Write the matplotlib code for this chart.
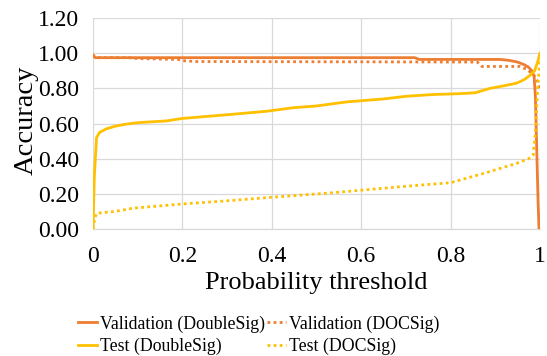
import matplotlib
matplotlib.use("Agg")
import matplotlib.pyplot as plt

# Validation (DoubleSig)
val_ds_x = [0, 0.005, 0.72, 0.73, 0.91, 0.93, 0.95, 0.965, 0.975, 0.982, 0.987, 0.990, 0.993, 0.996, 0.998]
val_ds_y = [0.99, 0.975, 0.975, 0.965, 0.965, 0.96, 0.95, 0.935, 0.92, 0.90, 0.87, 0.75, 0.45, 0.15, 0.0]

# Validation (DOCSig)
val_doc_x = [0, 0.005, 0.08, 0.1, 0.19, 0.2, 0.23, 0.86, 0.87, 0.955, 0.97, 0.985, 0.99, 0.995, 1.0]
val_doc_y = [0.99, 0.975, 0.975, 0.97, 0.965, 0.958, 0.953, 0.95, 0.925, 0.925, 0.91, 0.88, 0.86, 0.84, 0.80]

# Test (DoubleSig)
test_ds_x = [0, 0.003, 0.008, 0.015, 0.03, 0.05, 0.075, 0.1, 0.165, 0.2, 0.3, 0.389, 0.448, 0.5,
             0.567, 0.65, 0.7, 0.76, 0.82, 0.855, 0.888, 0.92, 0.948, 0.965, 0.978, 0.988, 0.995, 1.0]
test_ds_y = [0.0, 0.30, 0.52, 0.55, 0.57, 0.585, 0.597, 0.605, 0.615, 0.629, 0.65, 0.67, 0.69, 0.70,
             0.723, 0.74, 0.755, 0.765, 0.77, 0.775, 0.80, 0.815, 0.83, 0.85, 0.875, 0.90, 0.95, 1.0]

# Test (DOCSig)
test_doc_x = [0, 0.004, 0.008, 0.05, 0.09, 0.2, 0.3, 0.389, 0.537, 0.687, 0.76, 0.8, 0.874, 0.948,
              0.975, 0.985, 0.99, 0.995, 1.0]
test_doc_y = [0.0, 0.06, 0.089, 0.10, 0.118, 0.142, 0.16, 0.178, 0.206, 0.24, 0.255, 0.263, 0.316, 0.373,
              0.40, 0.42, 0.55, 0.80, 0.97]

x_ticks = [0, 0.2, 0.4, 0.6, 0.8, 1.0]
x_tick_labels = ["0", "0.2", "0.4", "0.6", "0.8", "1"]
y_ticks = [0.0, 0.2, 0.4, 0.6, 0.8, 1.0, 1.2]
y_tick_labels = ["0.00", "0.20", "0.40", "0.60", "0.80", "1.00", "1.20"]

ORANGE = "#ED7D31"
YELLOW = "#FFC000"

plt.rcParams['font.family'] = ['Liberation Serif', 'DejaVu Serif']

fig = plt.figure(figsize=(5.47, 3.56), dpi=100)
ax = fig.add_axes([0.170, 0.357, 0.817, 0.592])

l1, = ax.plot(val_ds_x, val_ds_y, color=ORANGE, lw=2.0, label="Validation (DoubleSig)", zorder=3)
l2, = ax.plot(val_doc_x, val_doc_y, color=ORANGE, lw=2.0, ls=(0, (1, 1.2)), label="Validation (DOCSig)", zorder=3)
l3, = ax.plot(test_ds_x, test_ds_y, color=YELLOW, lw=2.0, label="Test (DoubleSig)", zorder=3)
l4, = ax.plot(test_doc_x, test_doc_y, color=YELLOW, lw=2.0, ls=(0, (1, 1.2)), label="Test (DOCSig)", zorder=3)

ax.set_xlim(0, 1)
ax.set_ylim(0, 1.2)
ax.set_xticks(x_ticks)
ax.set_xticklabels(x_tick_labels)
ax.set_yticks(y_ticks)
ax.set_yticklabels(y_tick_labels)
ax.tick_params(axis='both', length=0, labelsize=17)
ax.tick_params(axis='x', pad=12)
ax.tick_params(axis='y', pad=10)
ax.grid(True, color="#D9D9D9", lw=0.9)
for s in ['top', 'right', 'left']:
    ax.spines[s].set_visible(False)
ax.spines['bottom'].set_color("#D9D9D9")
ax.spines['bottom'].set_linewidth(0.9)

ax.set_ylabel("Accuracy", fontsize=20.5)
ax.yaxis.set_label_coords(-0.122, 0.515)
ax.set_xlabel("Probability threshold", fontsize=19)
ax.xaxis.set_label_coords(0.5, -0.205)

handles = [l1, l3, l2, l4]
fig.legend(handles=handles, labels=[h.get_label() for h in handles],
           loc='center', bbox_to_anchor=(0.473, 0.058), ncol=2, frameon=False,
           fontsize=12.8, handlelength=1.05, handletextpad=0.2, columnspacing=0.1,
           labelspacing=0.3, borderpad=0)

fig.savefig("out.png", dpi=100)
